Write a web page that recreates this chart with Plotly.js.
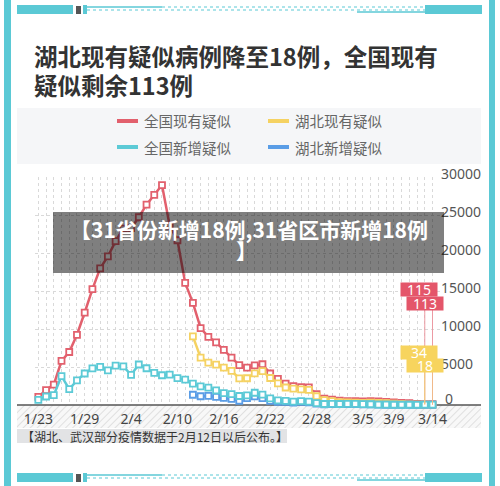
<!DOCTYPE html>
<html><head><meta charset="utf-8">
<script src="https://cdn.plot.ly/plotly-3.0.1.min.js"></script>
<style>html,body{margin:0;padding:0;background:#fff;}#chart{width:500px;height:486px;}</style>
</head><body><div id="chart"></div>
<script>
const dates = ['2020-01-23','2020-01-24','2020-01-25','2020-01-26','2020-01-27','2020-01-28','2020-01-29','2020-01-30','2020-01-31',
'2020-02-01','2020-02-02','2020-02-03','2020-02-04','2020-02-05','2020-02-06','2020-02-07','2020-02-08','2020-02-09','2020-02-10',
'2020-02-11','2020-02-12','2020-02-13','2020-02-14','2020-02-15','2020-02-16','2020-02-17','2020-02-18','2020-02-19','2020-02-20',
'2020-02-21','2020-02-22','2020-02-23','2020-02-24','2020-02-25','2020-02-26','2020-02-27','2020-02-28','2020-02-29',
'2020-03-01','2020-03-02','2020-03-03','2020-03-04','2020-03-05','2020-03-06','2020-03-07','2020-03-08','2020-03-09','2020-03-10',
'2020-03-11','2020-03-12','2020-03-13','2020-03-14'];
const tickDates = ['2020-01-23','2020-01-29','2020-02-04','2020-02-10','2020-02-16','2020-02-22','2020-02-28','2020-03-05','2020-03-09','2020-03-14'];
const tickLabels = ['1/23','1/29','2/4','2/10','2/16','2/22','2/28','3/5','3/9','3/14'];
const yTicks = [5000,10000,15000,20000,25000,30000];

// 全国现有疑似
const nationalExisting = [1072,1965,2684,5794,6973,9239,12167,15238,17988,
19544,21558,23214,23260,24702,26359,27657,28942,23589,21675,16067,13435,10109,8969,8228,7264,6242,5248,4922,5206,5365,4148,3434,2824,2491,2358,2308,1418,851,
715,587,520,522,482,502,458,421,349,285,253,147,115,113];
// 全国新增疑似
const nationalNew = [680,1118,1309,3806,2077,3248,4148,4812,5019,
4562,5173,5072,3971,5328,4833,4214,3916,4008,3536,3342,2807,2450,2277,1918,1563,1432,1185,1277,1614,1361,882,620,530,439,508,452,248,132,
141,129,143,143,102,99,60,41,36,31,33,33,39,41];
// 湖北 data starts 2/12
const hubeiDates = dates.slice(20);
const hubeiExisting = [9030,6240,5580,5300,4930,4490,3500,3520,4150,4450,3550,2850,2300,2150,2050,2000,1150,630,
500,390,330,320,280,300,260,230,170,110,90,60,34,18];
const hubeiNew = [1350,1150,1190,1080,940,800,560,900,1130,900,550,420,400,330,400,360,190,100,
120,110,125,125,90,80,50,36,30,25,31,28,30,33];

const seriesNames = ['全国现有疑似','湖北现有疑似','全国新增疑似','湖北新增疑似'];
const seriesColors = ['#e2606d','#f5d262','#5ccad6','#5a9de6'];

const L=35, R=440, T=177, B=405;
const px = x => (x-L)/(R-L);
const py = y => (B-y)/(B-T);
const yval = y => (B-y)/(B-T)*30000;
const CJK = '"Noto Sans CJK SC", "Noto Sans", sans-serif';
const CYAN = '#5bc9d5';

function mk(x, y, i){
  return {x:x, y:y, name:seriesNames[i], type:'scatter', mode:'lines+markers', cliponaxis:false,
    line:{color:seriesColors[i], width:2.5},
    marker:{symbol:'square', size:6, color:'#fff', line:{color:seriesColors[i], width:1.8}},
    hoverinfo:'skip', showlegend:false};
}
const traces = [
  mk(dates, nationalExisting, 0),
  mk(hubeiDates, hubeiExisting, 1),
  mk(hubeiDates, hubeiNew, 3),
  mk(dates, nationalNew, 2)
];

const shapes = [];
function rect(x0,y0,x1,y1,fill,layer){
  shapes.push({type:'rect', xref:'paper', yref:'paper', x0:px(x0), x1:px(x1), y0:py(y0), y1:py(y1),
    fillcolor:fill, line:{width:0}, layer:layer||'below'});
}
function hline(x0,x1,y,color,w,dash){
  shapes.push({type:'line', xref:'paper', yref:'paper', x0:px(x0), x1:px(x1), y0:py(y), y1:py(y),
    line:{color:color, width:w, dash:dash||'solid'}, layer:'below'});
}
// frame
rect(4,0,11,486,CYAN);
rect(489,0,495,486,CYAN);
function deco(y){
  rect(17,y,73,y+9,CYAN);
  rect(76,y+1,81,y+9,'#555');
  rect(83,y,87,y+9,CYAN);
  hline(87,162,y+2,CYAN,1.5);
  hline(87,425,y+5,CYAN,1,'dot');
  hline(162,425,y+2,CYAN,1,'dot');
  hline(357,425,y+7,CYAN,1.5);
  rect(425,y,482,y+9,CYAN);
}
deco(5);
deco(473);
// legend background
rect(17,108,481,164,'#f5f6f8');
// axis line
hline(17,481,405,'#555',1.5);
// note bg
rect(17,429,287,443,'#e2e3e5');
// legend lines
const legPos = [[117,121],[268,121],[117,147],[268,147]];
legPos.forEach((p,i)=>{ hline(p[0],p[0]+21,p[1],seriesColors[i],4); });
// value label connector lines
const n = dates.length;
const hn = hubeiDates.length;
shapes.push({type:'line', xref:'x', yref:'y', x0:dates[n-2], x1:dates[n-2], y0:nationalExisting[n-2], y1:yval(296), line:{color:'#ec9aa3', width:1}});
shapes.push({type:'line', xref:'x', yref:'y', x0:dates[n-1], x1:dates[n-1], y0:nationalExisting[n-1], y1:yval(309), line:{color:'#ec9aa3', width:1}});
shapes.push({type:'line', xref:'x', yref:'y', x0:hubeiDates[hn-2], x1:hubeiDates[hn-2], y0:hubeiExisting[hn-2], y1:yval(357), line:{color:'#f3cf73', width:1}});
shapes.push({type:'line', xref:'x', yref:'y', x0:hubeiDates[hn-1], x1:hubeiDates[hn-1], y0:hubeiExisting[hn-1], y1:yval(370), line:{color:'#f0b98a', width:1}});
// overlay
shapes.push({type:'rect', xref:'paper', yref:'paper', x0:px(53), x1:px(444), y0:py(212), y1:py(273),
  fillcolor:'rgba(0,0,0,0.5)', line:{width:0}, layer:'above'});

const ann = [];
function txt(x,y,text,size,color,opts){
  ann.push(Object.assign({xref:'paper', yref:'paper', x:px(x), y:py(y), text:text, showarrow:false,
    xanchor:'left', yanchor:'middle', font:{family:CJK, size:size, color:color}}, opts||{}));
}
txt(32,56,'湖北现有疑似病例降至18例，全国现有',23.5,'#333',{font:{family:CJK,size:23.5,color:'#333',weight:'bold'}});
txt(32,85,'疑似剩余113例',23.5,'#333',{font:{family:CJK,size:23.5,color:'#333',weight:'bold'}});
legPos.forEach((p,i)=>{ txt(p[0]+25,p[1],seriesNames[i],14.5,'#666'); });
txt(249,229,'【31省份新增18例,31省区市新增18例',21,'#fff',{xanchor:'center',font:{family:CJK,size:21,color:'#fff',weight:'bold'}});
txt(246,250,'】',21,'#fff',{xanchor:'center',font:{family:CJK,size:21,color:'#fff',weight:'bold'}});
txt(20,436,'【湖北、武汉部分疫情数据于2月12日以后公布。】',12,'#333');
txt(443,398,'0',14,'#555',{font:{family:'"Noto Sans", sans-serif',size:14,color:'#555'}});
// value labels
function vlab(x, yPix, text, bg, shift){
  ann.push({xref:'x', yref:'y', x:x, y:yval(yPix), text:text, showarrow:false, xshift:shift,
    bgcolor:bg, width:34, height:11, borderpad:1, font:{family:'"Noto Sans", sans-serif', size:14, color:'#fff'}});
}
vlab(dates[n-2], 289.5, String(nationalExisting[n-2]), '#e4566a', -6);
vlab(dates[n-1], 303.5, String(nationalExisting[n-1]), '#e4566a', -8);
vlab(hubeiDates[hn-2], 352, String(hubeiExisting[hn-2]), '#f7d45e', -6);
vlab(hubeiDates[hn-1], 365.5, String(hubeiExisting[hn-1]), '#f7d45e', -8);

const hatch = '<svg xmlns="http://www.w3.org/2000/svg" width="464" height="23"><defs><pattern id="p" width="5" height="5" patternUnits="userSpaceOnUse" patternTransform="rotate(45)"><line x1="0" y1="0" x2="0" y2="5" stroke="#dadada" stroke-width="1.6"/></pattern></defs><rect width="464" height="23" fill="#f8f8f8"/><rect width="464" height="23" fill="url(#p)"/></svg>';

const dayMs = 86400000;
const x0 = new Date('2020-01-23T00:00:00Z').getTime();
const layout = {
  width:500, height:486,
  margin:{l:L, r:500-R, t:T, b:486-B},
  paper_bgcolor:'#fff', plot_bgcolor:'rgba(0,0,0,0)',
  showlegend:false,
  xaxis:{type:'date', range:[x0-0.43*dayMs, x0+51.97*dayMs], tickmode:'array',
    tickvals:dates, ticktext:dates.map(d=>{const k=tickDates.indexOf(d); return k>=0?tickLabels[k]:'';}),
    showgrid:true, gridcolor:'#d9d9d9', griddash:'dot', gridwidth:1, zeroline:false, showline:false,
    ticks:'', tickfont:{family:'"Noto Sans", sans-serif', size:14, color:'#444'}, ticklabelstandoff:4, fixedrange:true},
  yaxis:{range:[0,30000], side:'right', tickmode:'array', tickvals:yTicks, ticktext:yTicks.map(String),
    showgrid:true, gridcolor:'#d9d9d9', griddash:'dot', gridwidth:1, zeroline:false, showline:false, ticks:'',
    tickfont:{family:'"Noto Sans", sans-serif', size:14, color:'#555'}, ticklabelshift:-3, fixedrange:true},
  shapes:shapes, annotations:ann,
  images:[{source:'data:image/svg+xml;charset=utf-8,'+encodeURIComponent(hatch), xref:'paper', yref:'paper',
    x:px(17), y:py(405), sizex:px(481)-px(17), sizey:(428-405)/(B-T), xanchor:'left', yanchor:'top', sizing:'stretch', layer:'below'}]
};
Plotly.newPlot('chart', traces, layout, {staticPlot:true, displayModeBar:false});
</script></body></html>
